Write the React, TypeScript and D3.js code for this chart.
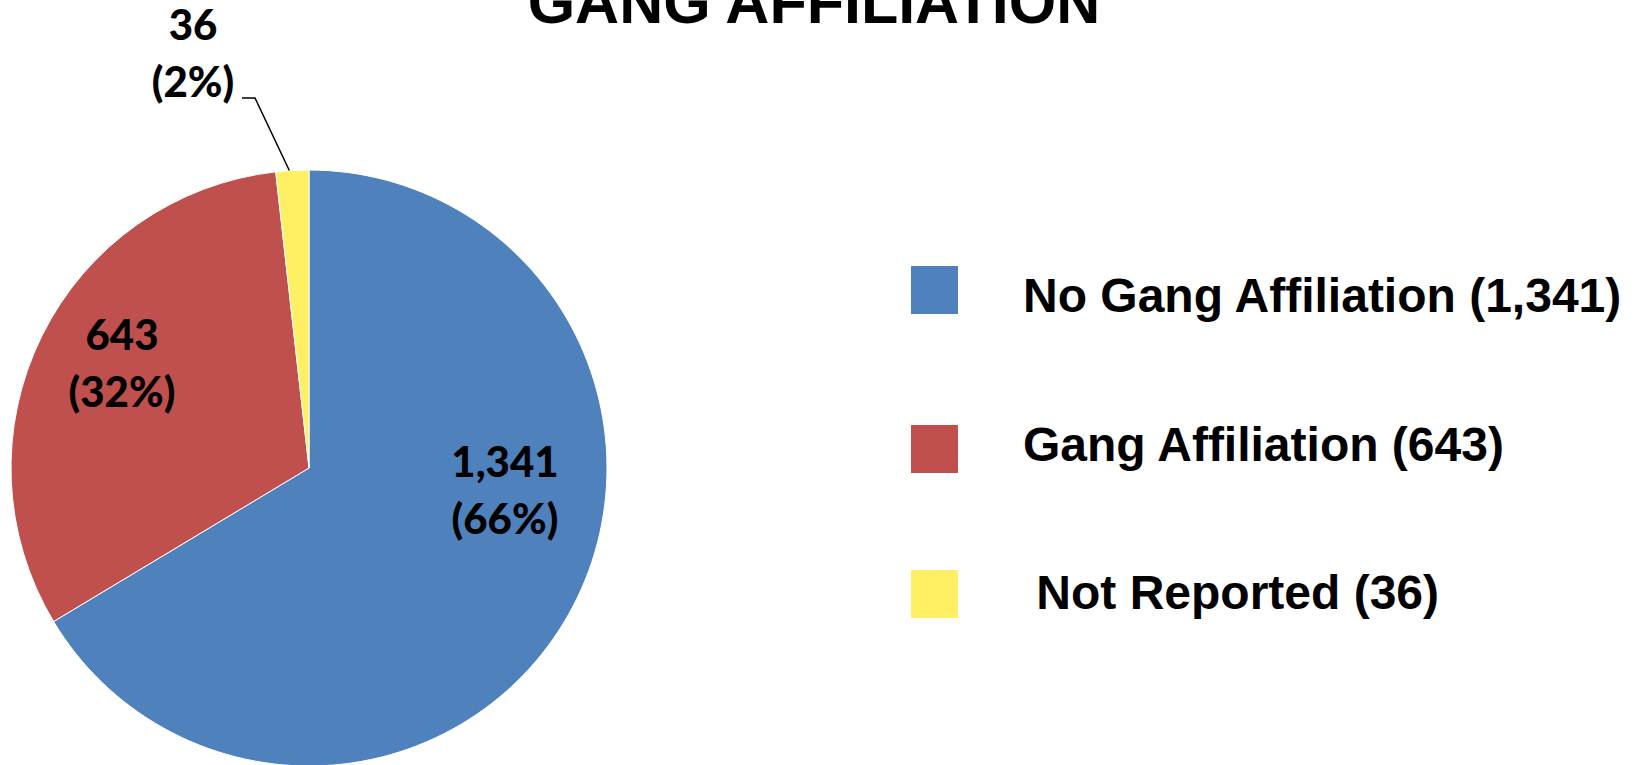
import React from "react";
import * as d3 from "d3";

const categories = ["No Gang Affiliation", "Gang Affiliation", "Not Reported"];
const values = [1341, 643, 36];
const colors = ["#4F81BD", "#C0504D", "#FFEF63"];
const legendLabels = ["No Gang Affiliation (1,341)", "Gang Affiliation (643)", " Not Reported (36)"];
const valueLabels = ["1,341", "643", "36"];
const pctLabels = ["(66%)", "(32%)", "(2%)"];

const W = 1636;
const H = 765;
const cx = 309;
const cy = 468;
const R = 298;

const labelPos: [number, number][] = [
  [505, 477],
  [122, 350],
  [193, 40],
];

const legendX = 911;
const legendTextX = 1023;
const legendSquareY = [266, 425, 570];
const legendBaseline = [312, 461, 609];

export default function App() {
  const pie = d3
    .pie<number>()
    .sort(null)
    .value((d) => d)
    .startAngle(0)
    .endAngle(2 * Math.PI);
  const arcs = pie(values);
  const arcGen = d3.arc<d3.PieArcDatum<number>>().innerRadius(0).outerRadius(R);

  const small = arcs[2];
  const midA = (small.startAngle + small.endAngle) / 2;
  const edgeX = cx + R * Math.sin(midA);
  const edgeY = cy - R * Math.cos(midA);

  return (
    <svg
      width={W}
      height={H}
      style={{ position: "absolute", left: 0, top: 0, background: "#fff" }}
    >
      <text
        x={814}
        y={23}
        textAnchor="middle"
        fontFamily="'Liberation Sans', Arial, sans-serif"
        fontWeight="bold"
        fontSize={61}
        fill="#000"
      >
        GANG AFFILIATION
      </text>
      <g transform={`translate(${cx},${cy})`}>
        {arcs.map((a, i) => (
          <path key={categories[i]} d={arcGen(a) || ""} fill={colors[i]} stroke="#fff" strokeWidth={1} />
        ))}
      </g>
      <polyline
        points={`242,98 255,98 ${edgeX - 3},${edgeY}`}
        fill="none"
        stroke="#000"
        strokeWidth={1.5}
      />
      {labelPos.map(([x, y], i) => (
        <g key={"lbl" + i} fontFamily="Lato, 'Open Sans', sans-serif" fontWeight={900} fontSize={42} fill="#000">
          <text x={x} y={y} textAnchor="middle">
            {valueLabels[i]}
          </text>
          <text x={x} y={y + 57} textAnchor="middle">
            {pctLabels[i]}
          </text>
        </g>
      ))}
      {legendLabels.map((l, i) => (
        <g key={"leg" + i}>
          <rect x={legendX} y={legendSquareY[i]} width={47} height={48} fill={colors[i]} />
          <text
            x={legendTextX}
            y={legendBaseline[i]}
            fontFamily="'Liberation Sans', Arial, sans-serif"
            fontWeight="bold"
            fontSize={48}
            fill="#000"
            style={{ whiteSpace: "pre" }}
          >
            {l}
          </text>
        </g>
      ))}
    </svg>
  );
}
